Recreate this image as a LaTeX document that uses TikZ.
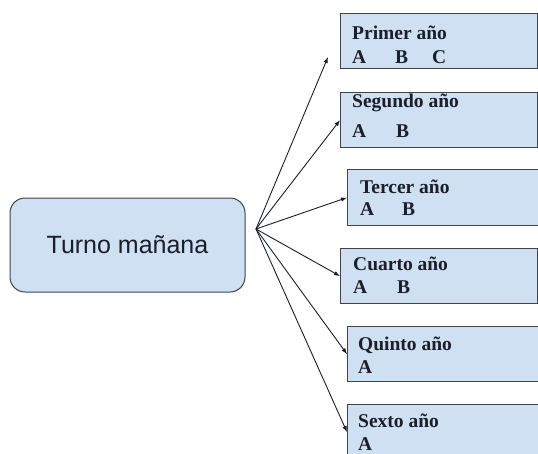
\documentclass[tikz,border=0pt]{standalone}
\usepackage{fontspec}
\setmainfont{Liberation Serif}
\newfontfamily\mainsans{Liberation Sans}
\usetikzlibrary{arrows.meta}
\definecolor{boxfill}{HTML}{CFE0F2}
\definecolor{boxdraw}{HTML}{3F434C}
\definecolor{inkc}{HTML}{1B1E2B}
\tikzset{
  yearbox/.style={draw=boxdraw, line width=1.2pt, fill=boxfill, rectangle, anchor=north west, inner sep=0pt},
  yeartext/.style={anchor=base west, inner sep=0pt, text=inkc, font=\fontsize{19.5}{22}\selectfont\bfseries},
  conn/.style={draw=inkc, line width=0.9pt, -{Latex[length=6pt,width=4.5pt]}},
}
\begin{document}
\begin{tikzpicture}[x=1pt,y=-1pt]
\useasboundingbox (0,0) rectangle (538,453);
% main box
\node[draw=boxdraw, line width=1pt, fill=boxfill, rounded corners=15pt, minimum width=235pt, minimum height=94pt, inner sep=0pt, text=inkc, font=\mainsans\fontsize{25}{29}\selectfont] (main) at (127.5,245) {Turno mañana};
\coordinate (hub) at (256,229);
% year boxes
\node[yearbox, minimum width=197pt, minimum height=55pt] (b1) at (340,13) {};
\node[yearbox, minimum width=197pt, minimum height=55pt] (b2) at (340,92) {};
\node[yearbox, minimum width=200pt, minimum height=56pt] (b3) at (347,169) {};
\node[yearbox, minimum width=197pt, minimum height=55pt] (b4) at (340,248) {};
\node[yearbox, minimum width=200pt, minimum height=55pt] (b5) at (347,326) {};
\node[yearbox, minimum width=200pt, minimum height=55pt] (b6) at (347,404) {};
% texts
\node[yeartext] (t1) at (352,39) {Primer año};
\node[yeartext] (t1a) at (352,63) {A};
\node[yeartext] (t1b) at (395,63) {B};
\node[yeartext] (t1c) at (432,63) {C};
\node[yeartext] (t2) at (352,107) {Segundo año};
\node[yeartext] (t2a) at (352,137) {A};
\node[yeartext] (t2b) at (396,137) {B};
\node[yeartext] (t3) at (360,193) {Tercer año};
\node[yeartext] (t3a) at (360,215) {A};
\node[yeartext] (t3b) at (402,215) {B};
\node[yeartext] (t4) at (353,270) {Cuarto año};
\node[yeartext] (t4a) at (353,293) {A};
\node[yeartext] (t4b) at (397,293) {B};
\node[yeartext] (t5) at (358,350) {Quinto año};
\node[yeartext] (t5a) at (358,373) {A};
\node[yeartext] (t6) at (358,427) {Sexto año};
\node[yeartext] (t6a) at (358,450) {A};
% connectors
\coordinate (p1) at (328,57);
\draw[conn] (hub) -- (p1);
\draw[conn] (hub) -- (b2.west);
\draw[conn] (hub) -- (b3.west);
\draw[conn] (hub) -- (b4.west);
\draw[conn] (hub) -- (b5.west);
\draw[conn] (hub) -- (b6.west);
\end{tikzpicture}
\end{document}
